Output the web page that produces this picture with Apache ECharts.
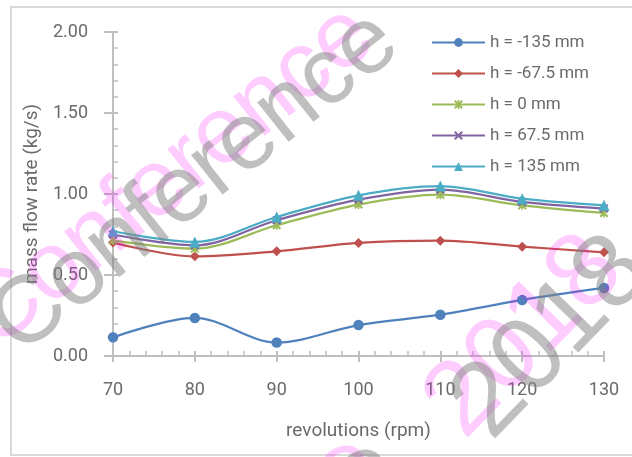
<!DOCTYPE html>
<html>
<head>
<meta charset="utf-8">
<script src="https://cdn.jsdelivr.net/npm/echarts@6/dist/echarts.min.js"></script>
<style>
html,body{margin:0;padding:0;background:#fff;}
#chart{width:632px;height:457px;}
</style>
</head>
<body>
<div id="chart"></div>
<script>
var revolutions = [70, 80, 90, 100, 110, 120, 130];
var seriesNames = ['h = -135 mm', 'h = -67.5 mm', 'h = 0 mm', 'h = 67.5 mm', 'h = 135 mm'];
var hMinus135 = [0.115, 0.235, 0.083, 0.191, 0.255, 0.346, 0.420];
var hMinus675 = [0.700, 0.615, 0.646, 0.698, 0.712, 0.675, 0.640];
var hZero = [0.714, 0.663, 0.807, 0.935, 0.996, 0.930, 0.883];
var hPlus675 = [0.750, 0.683, 0.838, 0.965, 1.027, 0.951, 0.910];
var hPlus135 = [0.770, 0.704, 0.858, 0.992, 1.049, 0.971, 0.930];
var xTicks = [70, 80, 90, 100, 110, 120, 130];
var yTicks = [0.00, 0.50, 1.00, 1.50, 2.00];
var xTitle = 'revolutions (rpm)';
var yTitle = 'mass flow rate (kg/s)';

var colors = ['#4F81BD', '#C0504D', '#9BBB59', '#8064A2', '#4BACC6'];
var xPath = 'path://M0,1.6 L1.6,0 L5,3.4 L8.4,0 L10,1.6 L6.6,5 L10,8.4 L8.4,10 L5,6.6 L1.6,10 L0,8.4 L3.4,5 Z';
var starPath = 'path://M0,1.6 L1.6,0 L5,3.4 L8.4,0 L10,1.6 L6.6,5 L10,8.4 L8.4,10 L5,6.6 L1.6,10 L0,8.4 L3.4,5 Z M4.1,0 L5.9,0 L5.9,10 L4.1,10 Z';
var symbols = ['circle', 'diamond', starPath, xPath, 'triangle'];
var sizes = [10.5, 10, 9, 9, 11];
var allData = [hMinus135, hMinus675, hZero, hPlus675, hPlus135];

function pairs(arr) { return revolutions.map(function (x, i) { return [x, arr[i]]; }); }

var textColor = '#6a6a6a';
var axisColor = '#BFBFBF';
var baseFont = 'Roboto, "Open Sans", sans-serif';

var series = allData.map(function (d, i) {
  return {
    name: seriesNames[i],
    type: 'line',
    data: pairs(d),
    smooth: 0.33,
    symbol: symbols[i],
    symbolSize: sizes[i],
    showAllSymbol: true,
    itemStyle: { color: colors[i] },
    lineStyle: { color: colors[i], width: 2.25 },
    emphasis: { disabled: true },
    z: 2 + i
  };
});

var wmFont = '"Liberation Sans", Arial, sans-serif';
var chart = echarts.init(document.getElementById('chart'), null, { renderer: 'canvas' });
var option = {
  animation: false,
  backgroundColor: '#ffffff',
  grid: { left: 113, right: 28, top: 32, height: 324, containLabel: false },
  legend: {
    orient: 'vertical',
    left: 426,
    top: 29,
    itemWidth: 53,
    itemHeight: 11,
    itemGap: 14,
    data: seriesNames,
    textStyle: { color: textColor, fontSize: 17, fontFamily: baseFont, lineHeight: 17 }
  },
  xAxis: [{
    type: 'value', position: 'bottom', min: 70, max: 130, interval: 10,
    name: xTitle, nameLocation: 'middle', nameGap: 66,
    nameTextStyle: { color: textColor, fontSize: 19, fontFamily: baseFont },
    axisLine: { show: true, lineStyle: { color: axisColor, width: 2 } },
    axisTick: { show: true, inside: false, length: 6, lineStyle: { color: axisColor, width: 2 } },
    minorTick: { show: false },
    axisLabel: { color: textColor, fontSize: 18, fontFamily: baseFont, margin: 25,
      formatter: function (v) { return xTicks.indexOf(v) >= 0 ? String(v) : ''; } },
    splitLine: { show: false }
  }, {
    type: 'value', position: 'bottom', min: 70, max: 130, interval: 10,
    axisLine: { show: false },
    axisTick: { show: true, inside: true, length: 5, lineStyle: { color: axisColor, width: 2 } },
    minorTick: { show: true, splitNumber: 5, length: 5, lineStyle: { color: axisColor, width: 1.5 } },
    axisLabel: { show: false },
    splitLine: { show: false }
  }],
  yAxis: [{
    type: 'value', position: 'left', min: 0, max: 2, interval: 0.5,
    name: yTitle, nameLocation: 'middle', nameGap: 62, nameRotate: 90,
    nameTextStyle: { color: textColor, fontSize: 19, fontFamily: baseFont },
    axisLine: { show: true, lineStyle: { color: axisColor, width: 2 } },
    axisTick: { show: true, inside: false, length: 9, lineStyle: { color: axisColor, width: 2 } },
    axisLabel: { color: textColor, fontSize: 18, fontFamily: baseFont, margin: 25,
      formatter: function (v) { return v.toFixed(2); } },
    splitLine: { show: false }
  }, {
    type: 'value', position: 'left', min: 0, max: 2, interval: 0.5,
    axisLine: { show: false },
    axisTick: { show: true, inside: true, length: 5, lineStyle: { color: axisColor, width: 2 } },
    minorTick: { show: true, splitNumber: 5, length: 5, lineStyle: { color: axisColor, width: 1.5 } },
    axisLabel: { show: false },
    splitLine: { show: false }
  }],
  series: series,
  graphic: [
    { type: 'rect', z: 0, silent: true,
      shape: { x: 11, y: 7, width: 700, height: 448 },
      style: { fill: 'none', stroke: '#D9D9D9', lineWidth: 2 } },
    { type: 'text', z: 100, silent: true, x: 171, y: 177, rotation: 0.674,
      style: { text: 'Conference', font: '95px ' + wmFont,
        fill: 'rgba(255,0,255,0.2)', textAlign: 'center', textVerticalAlign: 'middle' } },
    { type: 'text', z: 101, silent: true, x: 195, y: 183, rotation: 0.674,
      style: { text: 'Conference', font: '95px ' + wmFont,
        fill: 'rgba(128,128,128,0.5)', textAlign: 'center', textVerticalAlign: 'middle' } },
    { type: 'text', z: 100, silent: true, x: 525, y: 337, rotation: 0.80,
      style: { text: '2018', font: '105px ' + wmFont,
        fill: 'rgba(255,0,255,0.2)', textAlign: 'center', textVerticalAlign: 'middle' } },
    { type: 'text', z: 101, silent: true, x: 552, y: 338, rotation: 0.80,
      style: { text: '2018', font: '105px ' + wmFont,
        fill: 'rgba(128,128,128,0.5)', textAlign: 'center', textVerticalAlign: 'middle' } },
    { type: 'text', z: 100, silent: true, x: 346, y: 471, rotation: 0.3,
      style: { text: 'o', font: '95px ' + wmFont,
        fill: 'rgba(255,0,255,0.2)', textAlign: 'center', textVerticalAlign: 'middle' } },
    { type: 'text', z: 101, silent: true, x: 365, y: 475, rotation: 0.3,
      style: { text: 'o', font: '95px ' + wmFont,
        fill: 'rgba(128,128,128,0.5)', textAlign: 'center', textVerticalAlign: 'middle' } }
  ]
};
chart.setOption(option);
</script>
</body>
</html>
